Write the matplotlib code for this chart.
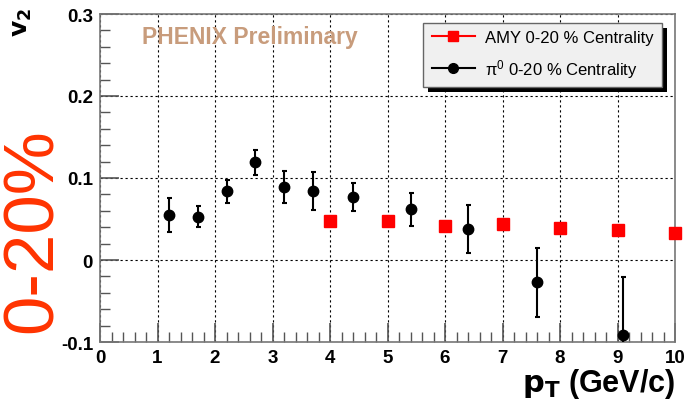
import numpy as np
import matplotlib.pyplot as plt
from matplotlib.lines import Line2D
from matplotlib.ticker import MultipleLocator
from matplotlib.patches import Rectangle

plt.rcParams["font.family"] = ["Liberation Sans", "DejaVu Sans"]

# =====================
# 数据
# =====================
pi0_pt = [1.2, 1.7, 2.2, 2.7, 3.2, 3.7, 4.4, 5.4, 6.4, 7.6, 9.1]
pi0_v2 = [0.055, 0.053, 0.084, 0.119, 0.089, 0.084, 0.077, 0.062, 0.038, -0.027, -0.091]
pi0_err = [0.021, 0.013, 0.014, 0.015, 0.020, 0.023, 0.017, 0.020, 0.029, 0.042, 0.070]

amy_pt = [4, 5, 6, 7, 8, 9, 10]
amy_v2 = [0.047, 0.047, 0.041, 0.044, 0.039, 0.036, 0.033]

fig = plt.figure(figsize=(6.9, 4.06), dpi=100)
ax = fig.add_axes([100 / 690, 1 - 343 / 406, 575 / 690, 328 / 406])

ax.errorbar(pi0_pt, pi0_v2, yerr=pi0_err, fmt="o", color="black", ms=7.5,
            elinewidth=1.5, capsize=1.8, capthick=1.5, zorder=3, clip_on=True)
ax.plot(amy_pt, amy_v2, "s", color="#ff0000", ms=8, zorder=4, clip_on=False)

ax.set_xlim(0, 10)
ax.set_ylim(-0.1, 0.3)
ax.xaxis.set_major_locator(MultipleLocator(1))
ax.xaxis.set_minor_locator(MultipleLocator(0.2))
ax.yaxis.set_major_locator(MultipleLocator(0.1))
ax.yaxis.set_minor_locator(MultipleLocator(0.02))
ax.tick_params(which="both", direction="in", top=False, right=False, color="#555555")
ax.tick_params(which="major", length=14, width=1.2, labelsize=13.5, pad=5)
ax.tick_params(which="minor", length=7, width=1)
ax.set_yticks([-0.1, 0, 0.1, 0.2, 0.3])
ax.set_yticklabels(["-0.1", "0", "0.1", "0.2", "0.3"], fontweight="bold")
ax.set_xticks(range(11))
ax.set_xticklabels([str(i) for i in range(11)], fontweight="bold")
ax.grid(which="major", color="black", linestyle=(0, (2, 2.5)), linewidth=0.8)
for s in ax.spines.values():
    s.set_color("#777777")
    s.set_linewidth(1.2)

ax.text(0.26, 0.93, "PHENIX Preliminary", transform=ax.transAxes, ha="center", va="center",
        fontsize=16.5, fontweight="bold", color="#c89c7c")

fig.text(675 / 690, 1 - 384 / 406, r"$\mathbf{p_T}$ (GeV/c)", ha="right", va="center",
         fontsize=22, fontweight="bold")
fig.text(22 / 690, 1 - 22 / 406, r"$\mathbf{v_2}$", ha="center", va="center",
         fontsize=18, rotation=90)
fig.text(34 / 690, 1 - 231 / 406, "0-20%", ha="center", va="center",
         fontsize=51, color="#ff3300", rotation=90)

# 图例（带阴影）
lx0, ly0, lw, lh = 423 / 690, 1 - 88 / 406, 239 / 690, 64 / 406
fig.patches.append(Rectangle((lx0 + 5 / 690, ly0 - 5 / 406), lw, lh, transform=fig.transFigure,
                             facecolor="black", edgecolor="none", zorder=5))
fig.patches.append(Rectangle((lx0, ly0), lw, lh, transform=fig.transFigure,
                             facecolor="#f0f0f0", edgecolor="#666666", lw=1, zorder=6))
handles = [Line2D([], [], color="#ff0000", marker="s", ms=7, lw=1.5),
           Line2D([], [], color="black", marker="o", ms=7, lw=1.5)]
leg = fig.legend(handles, ["AMY 0-20 % Centrality", r"$\mathregular{\pi^0}$ 0-20 % Centrality"],
                 loc="center", bbox_to_anchor=(lx0 + lw / 2, ly0 + lh / 2), frameon=False,
                 fontsize=12, handlelength=2.6, handletextpad=0.6, labelspacing=0.7)
leg.set_zorder(7)

fig.savefig("out.png", dpi=100)
